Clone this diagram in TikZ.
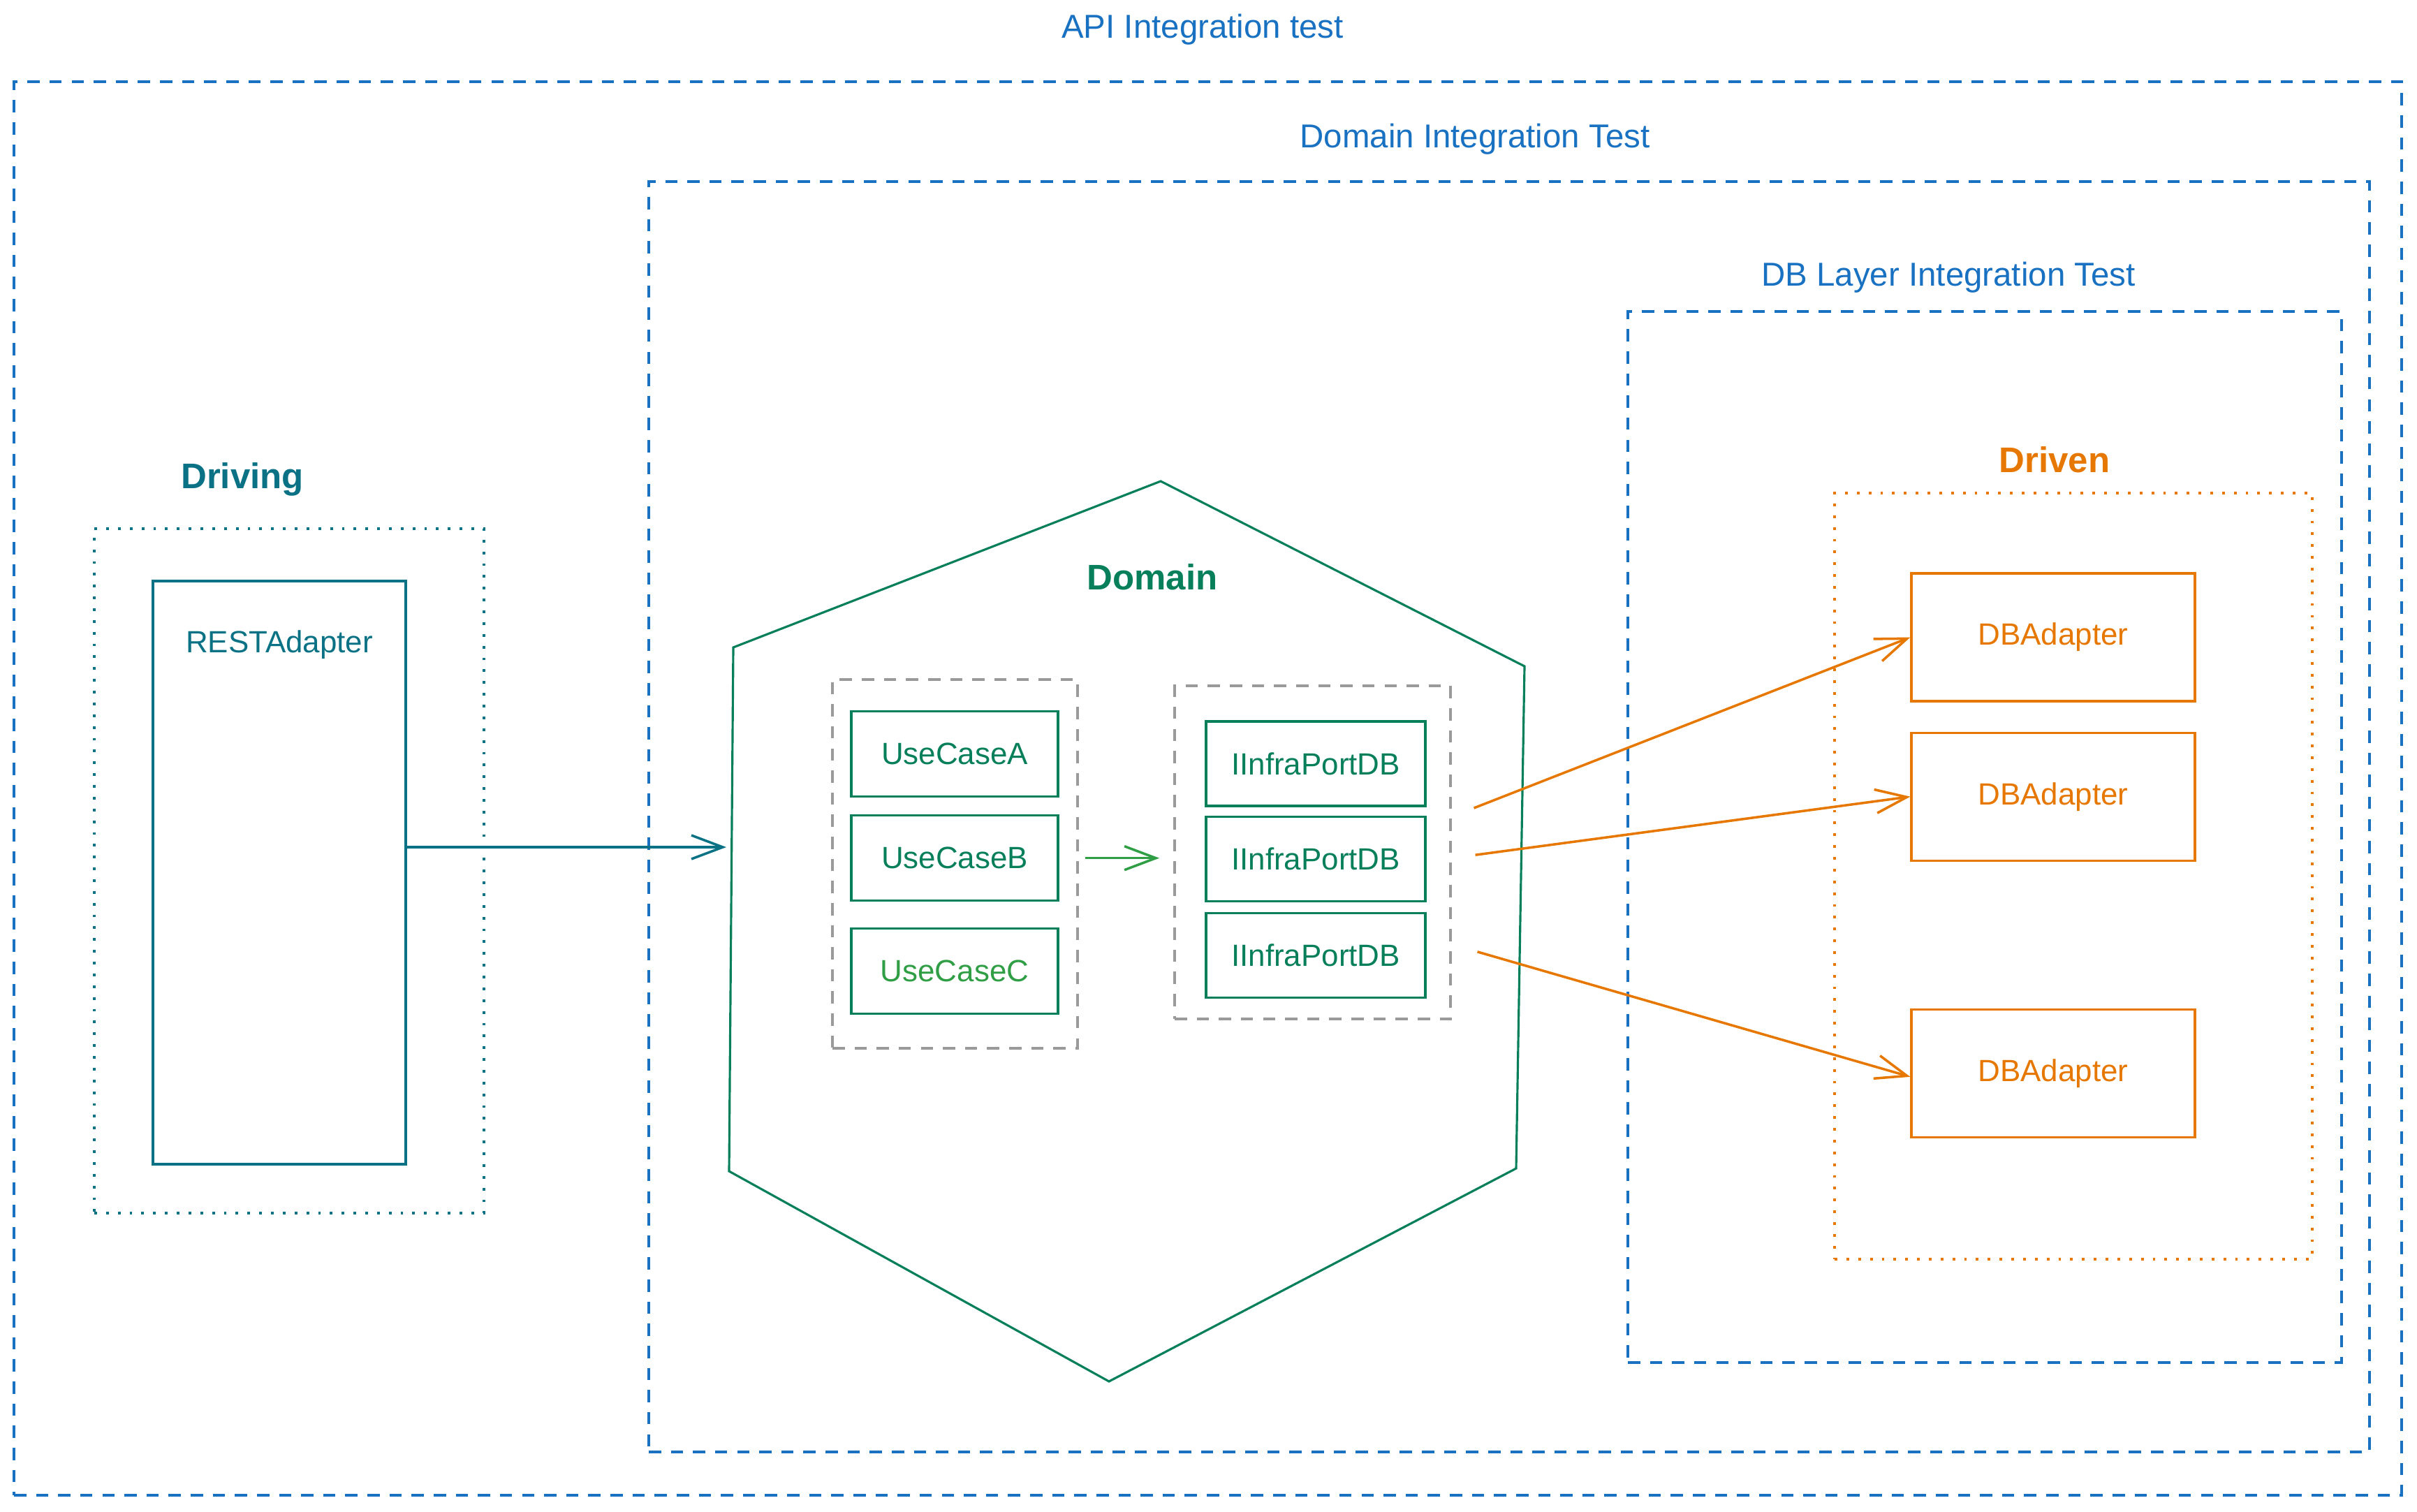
\documentclass[tikz,border=0pt]{standalone}
\usepackage{fontspec}
\setmainfont{Liberation Sans}
\usepackage{xcolor}
\usepackage{tikz}
\usetikzlibrary{positioning, arrows.meta}

\definecolor{testblue}{HTML}{1971C2}
\definecolor{drivingteal}{HTML}{0B7285}
\definecolor{domaingreen}{HTML}{087F5B}
\definecolor{lightgreen}{HTML}{2F9E44}
\definecolor{drivenorange}{HTML}{E67700}
\definecolor{portgray}{HTML}{9A9A9A}

\begin{document}
\begin{tikzpicture}[every node/.style={font=\fontsize{12.5}{15}\selectfont},
    testframe/.style={draw=testblue, line width=1.1pt, dash pattern=on 5pt off 4pt, inner sep=0pt},
    testtitle/.style={text=testblue, font=\fontsize{13.5}{16}\selectfont},
    layerframe/.style={line width=1.1pt, dash pattern=on 1.1pt off 3.7pt, inner sep=0pt},
    grayframe/.style={draw=portgray, line width=1.1pt, dash pattern=on 5pt off 4pt, inner sep=0pt},
    heading/.style={font=\fontsize{14.5}{17}\selectfont\bfseries},
    greenbox/.style={draw=domaingreen, text=domaingreen, line width=0.9pt, minimum width=2.96cm, minimum height=1.22cm, inner sep=0pt},
    portbox/.style={greenbox, minimum width=3.14cm, minimum height=1.21cm},
    orangebox/.style={draw=drivenorange, text=drivenorange, line width=0.9pt, minimum width=4.06cm, minimum height=1.83cm, inner sep=0pt},
    domainline/.style={draw=domaingreen, line width=0.9pt, line join=miter},
    drivingarrow/.style={-{Straight Barb[length=4.5mm, width=3.4mm]}, drivingteal, line width=1pt},
    casearrow/.style={-{Straight Barb[length=4.5mm, width=3.4mm]}, lightgreen, line width=1pt},
    drivenarrow/.style={-{Straight Barb[length=4.5mm, width=3.4mm]}, drivenorange, line width=1pt}]

    \useasboundingbox (0,0) rectangle (34.61,-21.64);

    % Test frames
    \node[testframe, minimum width=34.19cm, minimum height=20.24cm] (apiframe) at (17.295,-11.29) {};
    \node[testtitle] (apititle) at (17.22,-0.42) {API Integration test};
    \node[testframe, minimum width=24.64cm, minimum height=18.19cm] (domainframe) at (21.61,-11.695) {};
    \node[testtitle] (domaintesttitle) at (21.12,-1.99) {Domain Integration Test};
    \node[testframe, minimum width=10.22cm, minimum height=15.05cm] (dbframe) at (28.42,-11.985) {};
    \node[testtitle] (dbtitle) at (27.90,-3.97) {DB Layer Integration Test};

    % Driving side
    \node[layerframe, draw=drivingteal, minimum width=5.58cm, minimum height=9.80cm] (drivingframe) at (4.14,-12.47) {};
    \node[heading, text=drivingteal] (drivingtitle) at (3.47,-6.86) {Driving};
    \node[draw=drivingteal, line width=0.9pt, minimum width=3.62cm, minimum height=8.35cm, inner sep=0pt,
        label={[text=drivingteal, anchor=center, yshift=-0.93cm]north:RESTAdapter}] (rest) at (4.00,-12.495) {};

    % Domain hexagon
    \coordinate (hexN) at (16.62,-6.89);
    \coordinate (hexNE) at (21.83,-9.54);
    \coordinate (hexSE) at (21.71,-16.73);
    \coordinate (hexS) at (15.88,-19.78);
    \coordinate (hexSW) at (10.44,-16.77);
    \coordinate (hexNW) at (10.50,-9.27);
    \coordinate (hexW) at (10.40,-12.13);
    \draw[domainline] (hexN) -- (hexNE) -- (hexSE) -- (hexS) -- (hexSW) -- (hexNW) -- cycle;
    \node[heading, text=domaingreen] (domaintitle) at (16.50,-8.26) {Domain};

    % Use cases
    \node[grayframe, minimum width=3.51cm, minimum height=5.28cm] (caseframe) at (13.675,-12.37) {};
    \node[greenbox] (ucA) at (13.67,-10.795) {UseCaseA};
    \node[greenbox, below=0.24cm of ucA] (ucB) {UseCaseB};
    \node[greenbox, text=lightgreen, below=0.37cm of ucB] (ucC) {UseCaseC};

    % Ports
    \node[grayframe, minimum width=3.95cm, minimum height=4.77cm] (portframe) at (18.795,-12.205) {};
    \node[portbox] (port1) at (18.84,-10.935) {IInfraPortDB};
    \node[portbox, below=0.12cm of port1] (port2) {IInfraPortDB};
    \node[portbox, below=0.14cm of port2] (port3) {IInfraPortDB};

    % Driven side
    \node[layerframe, draw=drivenorange, minimum width=6.84cm, minimum height=10.97cm] (drivenframe) at (29.69,-12.545) {};
    \node[heading, text=drivenorange] (driventitle) at (29.42,-6.58) {Driven};
    \node[orangebox] (db1) at (29.40,-9.125) {DBAdapter};
    \node[orangebox, below=0.42cm of db1] (db2) {DBAdapter};
    \node[orangebox, below=2.10cm of db2] (db3) {DBAdapter};

    % Arrows
    \draw[drivingarrow] (rest.east |- hexW) -- (hexW);
    \draw[casearrow] ([xshift=0.9mm]caseframe.east |- ucB) -- ([xshift=-2mm]portframe.west |- ucB);
    \draw[drivenarrow] ([shift={(0.68,-0.635)}]port1.east) -- (db1.west);
    \draw[drivenarrow] ([shift={(0.70,0.055)}]port2.east) -- (db2.west);
    \draw[drivenarrow] ([shift={(0.73,0.05)}]port3.east) -- ([yshift=-0.5mm]db3.west);

\end{tikzpicture}
\end{document}
